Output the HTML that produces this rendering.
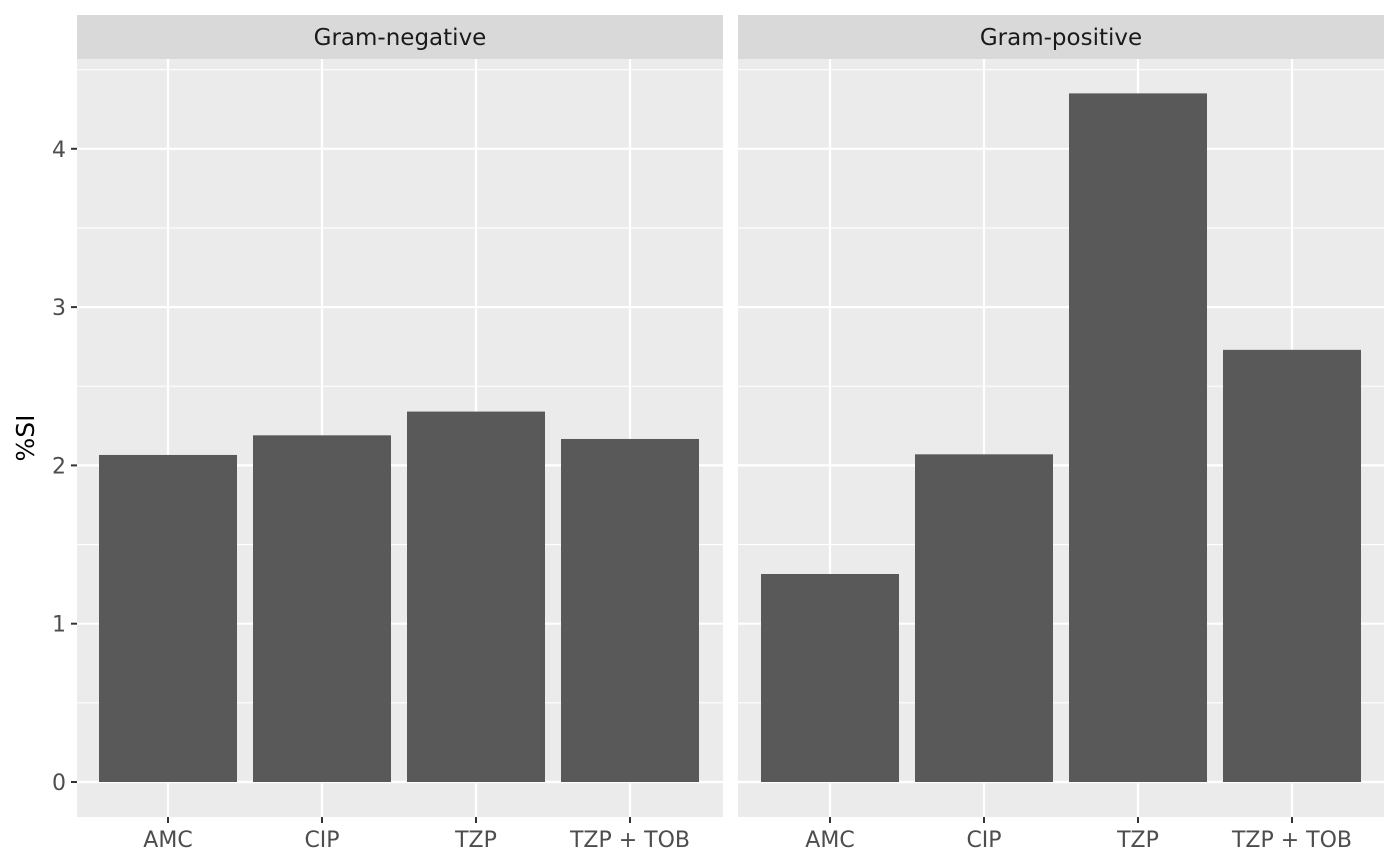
<!DOCTYPE html>
<html><head><meta charset="utf-8"><style>
body{margin:0;background:#fff;}
svg{display:block;font-family:"DejaVu Sans","Liberation Sans",sans-serif;}
</style></head><body>
<svg id="chart" width="1400" height="866"></svg>
<script>
const categories=["AMC","CIP","TZP","TZP + TOB"];
const panels=["Gram-negative","Gram-positive"];
const valuesNeg=[2.066,2.19,2.34,2.167];
const valuesPos=[1.314,2.07,4.35,2.73];
const yTicks=[0,1,2,3,4];
const yTickLabels=["0","1","2","3","4"];

const NS="http://www.w3.org/2000/svg";
const svg=document.getElementById('chart');
function mk(tag,attrs,parent){const e=document.createElementNS(NS,tag);for(const k in attrs)e.setAttribute(k,attrs[k]);(parent||svg).appendChild(e);return e;}
const plotTop=59,plotBot=817;
function y(v){return 782-v*158.3;}
const panelX=[77,738],panelW=646;
function x(i,p){return panelX[p]+91+p+i*154;}
const series=[valuesNeg,valuesPos];
function c_(i){return categories[i].toLowerCase().replace(/[^a-z]+/g,'-');}
panels.forEach((name,p)=>{
  const g=mk('g',{});
  
  
  const bg=mk('rect',{x:panelX[p],y:plotTop,width:panelW,height:plotBot-plotTop,fill:'#ebebeb'},g);
  
  
  for(let t=0;t<yTicks.length+1;t++){
    const mv=t+0.5;
    if(y(mv)>plotTop){const l=mk('line',{x1:panelX[p],x2:panelX[p]+panelW,y1:y(mv),y2:y(mv),stroke:'#fff','stroke-width':1.1},g);
    }
  }
  yTicks.forEach(t=>{const l=mk('line',{x1:panelX[p],x2:panelX[p]+panelW,y1:y(t),y2:y(t),stroke:'#fff','stroke-width':2.2},g);
    });
  categories.forEach((c,i)=>{const l=mk('line',{x1:x(i,p),x2:x(i,p),y1:plotTop,y2:plotBot,stroke:'#fff','stroke-width':2.2},g);
    });
  series[p].forEach((v,i)=>{
    const b=mk('rect',{x:x(i,p)-69,y:y(v),width:138,height:y(0)-y(v),fill:'#595959'},g);
    
    
  });
  const st=mk('rect',{x:panelX[p],y:15,width:panelW,height:44,fill:'#d9d9d9'},g);
  
  const stt=mk('text',{x:panelX[p]+panelW/2,y:45,'text-anchor':'middle','font-size':23,fill:'#1a1a1a'},g);
  stt.textContent=name;
  
  categories.forEach((c,i)=>{
    const tk=mk('line',{x1:x(i,p),x2:x(i,p),y1:plotBot,y2:plotBot+6,stroke:'#333','stroke-width':2},g);
    
    const tl=mk('text',{x:x(i,p),y:847,'text-anchor':'middle','font-size':22,fill:'#4d4d4d'},g);
    tl.textContent=c;
    
  });
});
yTicks.forEach((t,i)=>{
  const tk=mk('line',{x1:71,x2:77,y1:y(t),y2:y(t),stroke:'#333','stroke-width':2});
  
  const tl=mk('text',{x:66,y:y(t)+8,'text-anchor':'end','font-size':22,fill:'#4d4d4d'});
  tl.textContent=yTickLabels[i];
  
});
const yt=mk('text',{x:0,y:0,'text-anchor':'middle','font-size':25,fill:'#000',transform:'translate(34,438) rotate(-90)'});
yt.textContent="%SI";

</script>
</body></html>
